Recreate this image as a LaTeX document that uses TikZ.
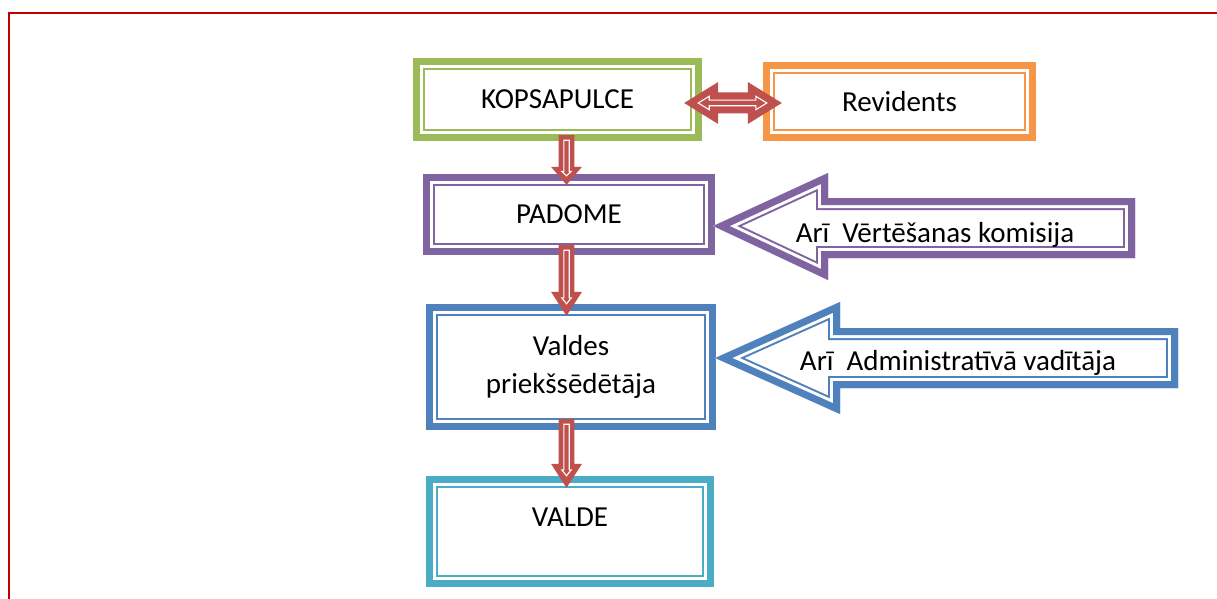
\documentclass[tikz,border=0pt]{standalone}
\usepackage{fontspec}
\setmainfont{Carlito}
\usetikzlibrary{calc}
\definecolor{kgreen}{HTML}{9BBB59}
\definecolor{korange}{HTML}{F79646}
\definecolor{kpurple}{HTML}{8064A2}
\definecolor{kblue}{HTML}{4F81BD}
\definecolor{kteal}{HTML}{4BACC6}
\definecolor{ared}{HTML}{C0504D}
\definecolor{framered}{HTML}{C00000}
\tikzset{
  boxnode/.style={rectangle, inner sep=0pt, align=center, font=\fontsize{29}{38}\selectfont},
  lbl/.style={inner sep=0pt, font=\fontsize{29}{38}\selectfont},
}
\newcommand\dblframe[2]{%
  \draw[#2, line width=7pt] ([shift={(3.5pt,-3.5pt)}]#1.north west) rectangle ([shift={(-3.5pt,3.5pt)}]#1.south east);
  \draw[#2, line width=2pt] ([shift={(11pt,-11pt)}]#1.north west) rectangle ([shift={(-11pt,11pt)}]#1.south east);
}
\newcommand\dblpoly[2]{%
  \begin{scope}
    \fill[white] #2;
    \clip #2;
    \draw[#1, line width=24pt, miter limit=25] #2;
    \draw[white, line width=20pt, miter limit=25] #2;
    \draw[#1, line width=14pt, miter limit=25] #2;
  \end{scope}}
% from node, to node, top inset, tip inset, head length
\newcommand\blockdown[5]{%
  \path[fill=ared] let \p1=($(axis |- #1.south)+(0,-#3)$), \p2=($(axis |- #2.north)+(0,#4)$) in
    (\x1-7.8pt,\y1) -- (\x1+7.8pt,\y1) -- (\x1+7.8pt,\y2+#5pt) -- (\x1+15.5pt,\y2+#5pt)
    -- (\x1,\y2) -- (\x1-15.5pt,\y2+#5pt) -- (\x1-7.8pt,\y2+#5pt) -- cycle;
  \draw[white, line width=1.1pt, line join=miter] let \p1=($(axis |- #1.south)+(0,-#3)$), \p2=($(axis |- #2.north)+(0,#4)$) in
    (\x1-2.7pt,\y1-5pt) -- (\x1-2.7pt,\y2+0.75*#5pt) -- (\x1-4.8pt,\y2+0.75*#5pt)
    -- (\x1,\y2+0.5*#5pt) -- (\x1+4.8pt,\y2+0.75*#5pt) -- (\x1+2.7pt,\y2+0.75*#5pt)
    -- (\x1+2.7pt,\y1-5pt) -- cycle;
}
\begin{document}
\begin{tikzpicture}[x=1pt,y=-1pt]
\useasboundingbox (0,0) rectangle (1217,599);
\fill[white] (0,0) rectangle (1217,599);
\draw[framered, line width=2.2pt] (9,602) -- (9,13) -- (1220,13);

\coordinate (axis) at (566.5,0);

% boxes
\node[boxnode, minimum width=289pt, minimum height=83pt] (kop) at (557.5,99.5) {KOPSAPULCE};
\node[boxnode, minimum width=273pt, minimum height=79pt] (rev) at (899.5,101.5) {Revidents};
\node[boxnode, minimum width=292pt, minimum height=81pt] (pad) at (569,214.5) {PADOME};
\node[boxnode, minimum width=290pt, minimum height=126pt] (val) at (571,367) {Valdes\\priekšsēdētāja};
\node[boxnode, minimum width=288pt, minimum height=111pt] (vald) at (570,531.5) {};
\node[lbl] (valdtxt) at ($(vald.center)+(0,-14.5)$) {VALDE};

\dblframe{kop}{kgreen}
\dblframe{rev}{korange}
\dblframe{pad}{kpurple}
\dblframe{val}{kblue}
\dblframe{vald}{kteal}

% callout arrows
\coordinate (ptip) at ($(pad.east)+(-2,11.5)$);
\coordinate (btip) at ($(val.east)+(-1,-9)$);
\dblpoly{kpurple}{(ptip) -- (828,173) -- (828,198) -- (1135,198) -- (1135,258) -- (828,258) -- (828,280) -- cycle}
\dblpoly{kblue}{(btip) -- (840,302) -- (840,328) -- (1178,328) -- (1178,388) -- (840,388) -- (840,414) -- cycle}
\node[lbl, anchor=base] (vkt) at (935,242) {Arī\ \ Vērtēšanas komisija};
\node[lbl, anchor=base] (avt) at (958,370) {Arī\ \ Administratīvā vadītāja};

% double arrow between KOPSAPULCE and Revidents
\coordinate (dl) at ($(kop.east)+(-18,3.5)$);
\coordinate (dr) at ($(rev.west)+(19,1.5)$);
\path[fill=ared] let \p1=(dl), \p2=(dr) in
  (\x1,\y1) -- (\x1+34pt,\y1+21pt) -- (\x1+34pt,\y1+10.5pt) -- (\x2-34pt,\y1+10.5pt)
  -- (\x2-34pt,\y1+21pt) -- (\x2,\y1) -- (\x2-34pt,\y1-21pt) -- (\x2-34pt,\y1-10.5pt)
  -- (\x1+34pt,\y1-10.5pt) -- (\x1+34pt,\y1-21pt) -- cycle;
\draw[white, line width=1.1pt] let \p1=(dl), \p2=(dr) in
  (\x1+14pt,\y1) -- (\x1+25pt,\y1+6.7pt) -- (\x1+25pt,\y1+2.8pt) -- (\x2-26pt,\y1+2.8pt)
  -- (\x2-26pt,\y1+6.7pt) -- (\x2-15pt,\y1) -- (\x2-26pt,\y1-6.7pt) -- (\x2-26pt,\y1-2.8pt)
  -- (\x1+25pt,\y1-2.8pt) -- (\x1+25pt,\y1-6.7pt) -- cycle;

% down arrows
\blockdown{kop}{pad}{6}{11}{18}
\blockdown{pad}{val}{10}{12}{24}
\blockdown{val}{vald}{11}{12}{24}
\end{tikzpicture}
\end{document}
